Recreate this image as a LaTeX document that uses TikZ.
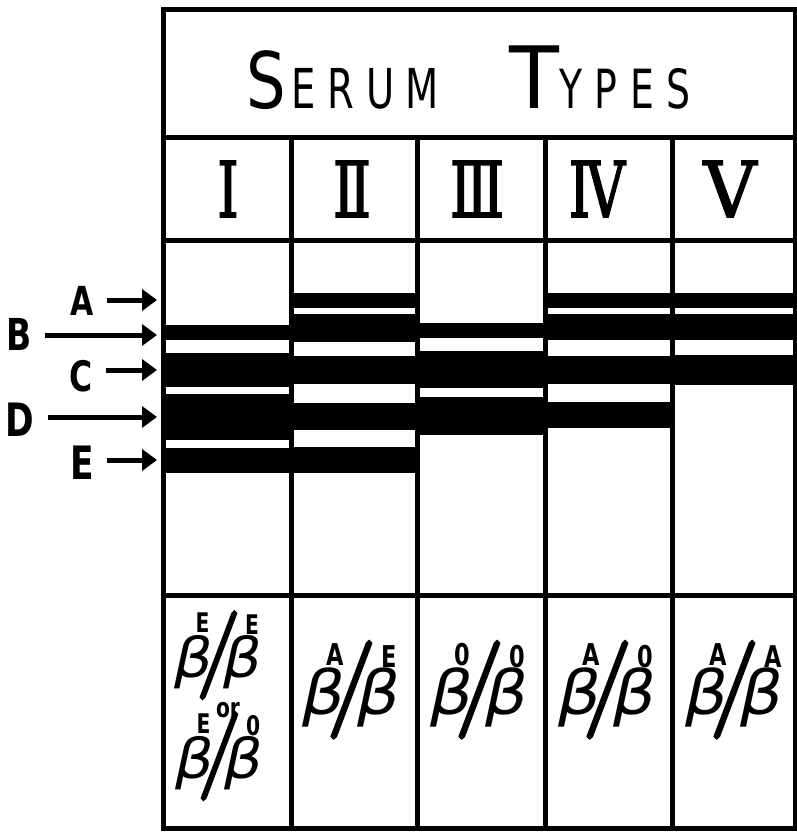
\documentclass[tikz,border=0pt]{standalone}
\usepackage{graphicx}
\usepackage{fontspec}
\usetikzlibrary{arrows.meta}
\newfontfamily\hand[FakeStretch=0.7]{DejaVu Sans}
\newfontfamily\handB[FakeStretch=0.75]{DejaVu Sans}
\newfontfamily\romn[FakeStretch=0.7,FakeBold=2]{DejaVu Serif}
\newfontfamily\gk[FakeStretch=1.1]{DejaVu Sans}
\newfontfamily\slf[FakeBold=2.5]{Latin Modern Roman}
\newcommand\bet{{\gk\itshape\fontsize{61}{61}\selectfont β}}
\newcommand\supf{\handB\bfseries\fontsize{30}{30}\selectfont}
\newcommand\slsh{\scalebox{1.1}[1]{\slf\fontsize{97}{97}\selectfont /}}
\newcommand\geno[2]{\makebox[100pt][l]{%
  \rlap{\bet}%
  \hspace*{24pt}\rlap{\raisebox{49pt}{\supf #1}}%
  \hspace*{1pt}\rlap{\slsh}%
  \hspace*{30pt}\rlap{\bet}%
  \hspace*{24pt}\rlap{\raisebox{47pt}{\supf #2}}}}
\newcommand\rnf{\romn\fontsize{77}{77}\selectfont}
\begin{document}
\begin{tikzpicture}[x=1pt,y=-1pt,
  frame/.style={line width=5pt},
  lbl/.style={inner sep=0pt,anchor=base},
  arr/.style={line width=5pt,-{Triangle[length=15pt,width=21pt]},shorten <=13pt}]
\useasboundingbox (0,0) rectangle (797,835);
% bands
\foreach \a/\b in {325/340,353/387,394/440,448/473} \fill (163,\a) rectangle (291,\b);
\foreach \a/\b in {293/308,314/342,356/384,403/430,447/473} \fill (291,\a) rectangle (417,\b);
\foreach \a/\b in {323/338,351/388,397/435} \fill (417,\a) rectangle (545,\b);
\foreach \a/\b in {293/308,314/340,356/384,402/428} \fill (545,\a) rectangle (672,\b);
\foreach \a/\b in {293/308,314/340,355/385} \fill (672,\a) rectangle (795,\b);
% frame
\draw[frame] (163,9) rectangle (795,828);
\draw[frame] (163,137) -- (795,137);
\draw[frame] (163,240) -- (795,240);
\draw[frame] (163,595) -- (795,595);
\foreach \x in {291,417,545,672} \draw[frame] (\x,137) -- (\x,828);
% header
\node[inner sep=0pt,anchor=base west] (serum) at (246,108)
  {{\hand\addfontfeature{FakeStretch=0.8}\fontsize{78}{78}\selectfont S}\kern6pt{\hand\addfontfeature{LetterSpace=21}\fontsize{55}{55}\selectfont ERUM}};
\node[inner sep=0pt,anchor=base west] (types) at (509,108)
  {{\hand\addfontfeature{FakeStretch=0.95}\fontsize{86}{86}\selectfont T}{\hand\addfontfeature{LetterSpace=23.5}\fontsize{54}{54}\selectfont YPES}};
% numerals
\node[lbl] (n1) at (228,217) {\rnf I};
\node[lbl] (n2) at (352,217) {\rnf I\kern-5pt I};
\node[lbl] (n3) at (477,217) {\rnf I\kern-5pt I\kern-5pt I};
\node[lbl] (n4) at (597,217) {\rnf I\kern-4pt V};
\node[lbl] (n5) at (730,217) {\rnf\addfontfeature{FakeStretch=0.95}V};
% side labels
\node[lbl] (la) at (82,315) {\handB\bfseries\fontsize{40}{40}\selectfont A};
\node[lbl] (lb) at (19,350) {\handB\bfseries\fontsize{44}{44}\selectfont B};
\node[lbl] (lc) at (81,391) {\handB\bfseries\fontsize{42}{42}\selectfont C};
\node[lbl] (ld) at (20,436) {\handB\bfseries\fontsize{46}{46}\selectfont D};
\node[lbl] (le) at (82,479) {\handB\bfseries\fontsize{46}{46}\selectfont E};
\coordinate (ta) at (157,300);
\coordinate (tb) at (157,335);
\coordinate (tc) at (157,370);
\coordinate (td) at (157,417);
\coordinate (te) at (157,460);
\draw[arr] (ta -| la.east) -- (ta);
\draw[arr] (tb -| lb.east) -- (tb);
\draw[arr] (tc -| lc.east) -- (tc);
\draw[arr] (td -| ld.east) -- (td);
\draw[arr] (te -| le.east) -- (te);
% genotypes
\node[lbl] (g1a) at (219,677) {\scalebox{0.9}{\geno{E}{E}}};
\node[lbl] (g1o) at (228,717) {\handB\bfseries\fontsize{27}{27}\selectfont or};
\node[lbl] (g1b) at (220,778) {\scalebox{0.9}{\geno{E}{0}}};
\node[lbl] (g2) at (352,714) {\geno{A}{E}};
\node[lbl] (g3) at (480,714) {\geno{0}{0}};
\node[lbl] (g4) at (608,714) {\geno{A}{0}};
\node[lbl] (g5) at (735,714) {\geno{A}{A}};
\end{tikzpicture}
\end{document}
